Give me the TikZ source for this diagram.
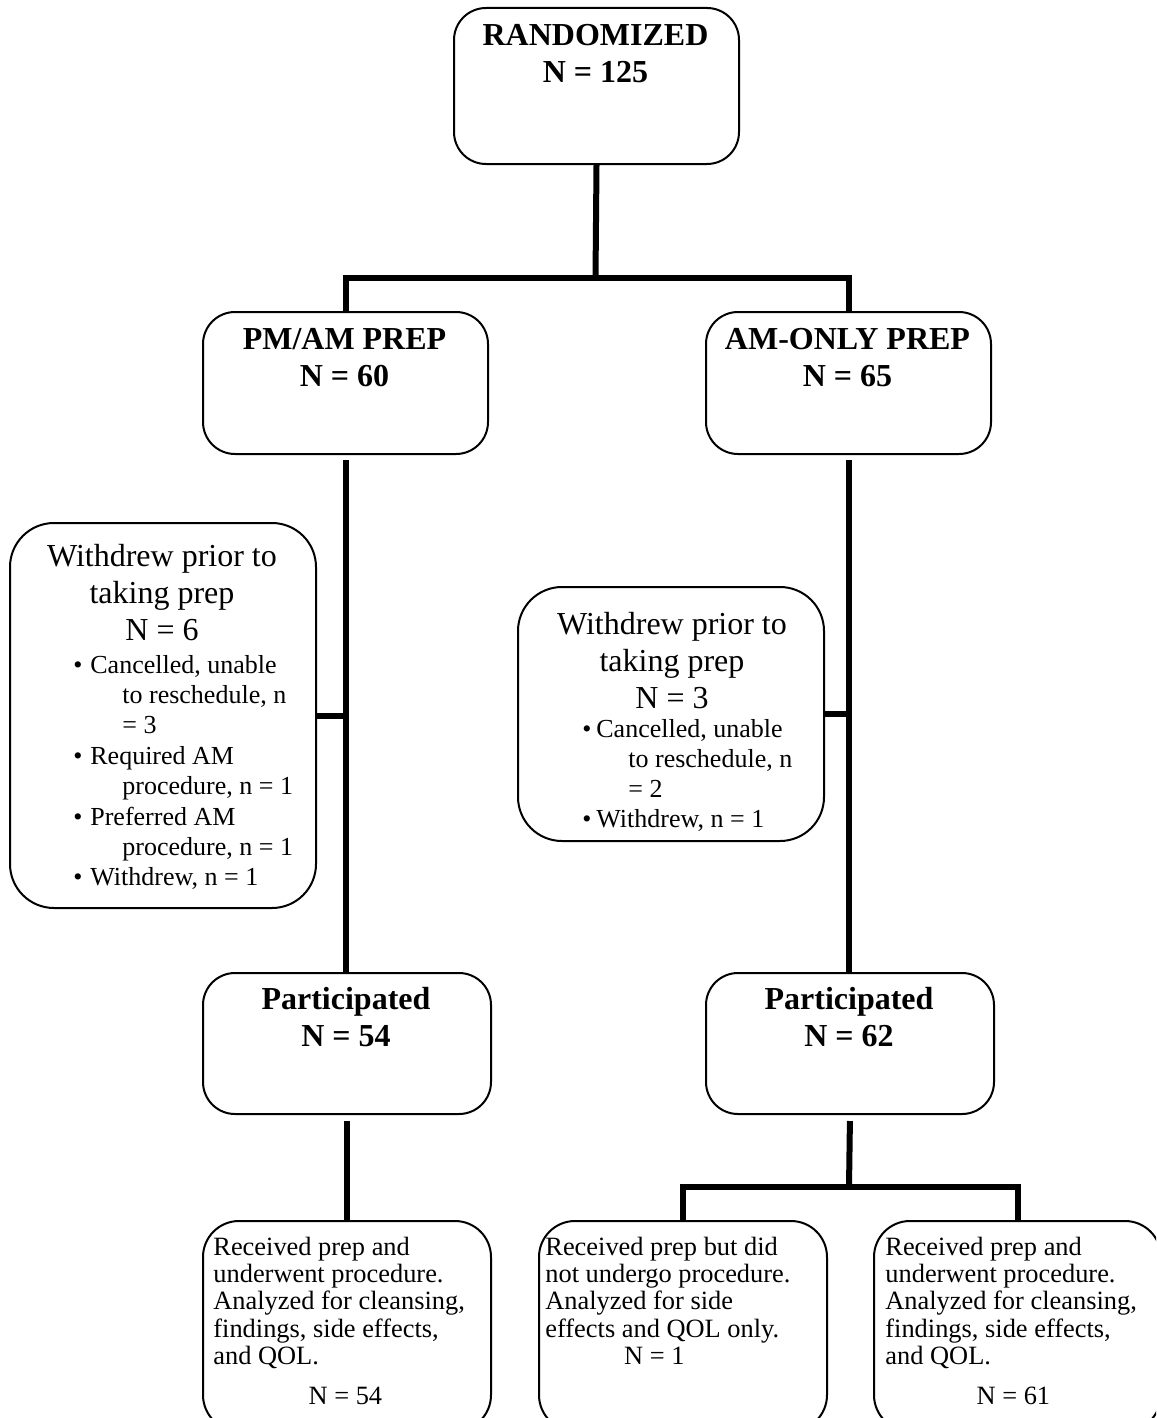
\documentclass[tikz,border=0pt]{standalone}
\usepackage{fontspec}
\setmainfont{Liberation Serif}
\begin{document}
\begin{tikzpicture}[x=0.5pt,y=-0.5pt,
  box/.style={draw, line width=1pt, rounded corners=16pt, inner sep=0pt, anchor=north west},
  conn/.style={line width=3pt, line join=miter},
  hd/.style={inner sep=0pt, anchor=base, font=\fontsize{16pt}{18.5pt}\selectfont\bfseries},
  wt/.style={inner sep=0pt, anchor=base, font=\fontsize{16pt}{18.5pt}\selectfont},
  bul/.style={inner sep=0pt, anchor=base west, font=\fontsize{13pt}{15.2pt}\selectfont},
  bt/.style={inner sep=0pt, anchor=base west, font=\fontsize{13.2pt}{13.7pt}\selectfont}]
\useasboundingbox (0,0) rectangle (1156,1418);
\clip (0,0) rectangle (1156,1418);

% boxes
\node[box, minimum width=142.5pt, minimum height=78pt] (rand) at (453,7) {};
\node[box, minimum width=142.5pt, minimum height=71pt] (pm) at (202,311) {};
\node[box, minimum width=142.5pt, minimum height=71pt] (am) at (705,311) {};
\node[box, rounded corners=22pt, minimum width=153pt, minimum height=192.5pt] (wl) at (9,522) {};
\node[box, rounded corners=22pt, minimum width=153pt, minimum height=127pt] (wr) at (517,586) {};
\node[box, minimum width=144pt, minimum height=70.5pt] (pl) at (202,972) {};
\node[box, minimum width=144pt, minimum height=70.5pt] (pr) at (705,972) {};
\node[box, rounded corners=18pt, minimum width=144pt, minimum height=105pt] (bl) at (202,1220) {};
\node[box, rounded corners=18pt, minimum width=144pt, minimum height=105pt] (bm) at (538,1220) {};
\node[box, rounded corners=18pt, minimum width=143.5pt, minimum height=105pt] (br) at (873,1220) {};

% headings
\node[hd] (randT) at (595.5,46) {\parbox[t]{140pt}{\centering RANDOMIZED\\N = 125}};
\node[hd] (pmT) at (344.5,349) {\parbox[t]{140pt}{\centering PM/AM PREP\\N = 60}};
\node[hd] (amT) at (847.5,349) {\parbox[t]{140pt}{\centering AM-ONLY PREP\\N = 65}};
\node[hd] (plT) at (346,1009) {\parbox[t]{140pt}{\centering Participated\\N = 54}};
\node[hd] (prT) at (849,1009) {\parbox[t]{140pt}{\centering Participated\\N = 62}};

% withdrawal boxes
\node[wt] (wlT) at (162,566) {\parbox[t]{150pt}{\centering Withdrew prior to\\taking prep\\N = 6}};
\node[bul] (wlB) at (73,673) {\parbox[t]{125pt}{\raggedright
\makebox[8.5pt][l]{•}Cancelled, unable\\
\hspace*{24.5pt}to reschedule, n\\
\hspace*{24.5pt}= 3\\
\makebox[8.5pt][l]{•}Required AM\\
\hspace*{24.5pt}procedure, n = 1\\
\makebox[8.5pt][l]{•}Preferred AM\\
\hspace*{24.5pt}procedure, n = 1\\
\makebox[8.5pt][l]{•}Withdrew, n = 1}};

\node[wt] (wrT) at (672,634) {\parbox[t]{150pt}{\centering Withdrew prior to\\taking prep\\N = 3}};
\node[bul, font=\fontsize{13pt}{15pt}\selectfont] (wrB) at (582,737) {\parbox[t]{125pt}{\raggedright
\makebox[7pt][l]{•}Cancelled, unable\\
\hspace*{23pt}to reschedule, n\\
\hspace*{23pt}= 2\\
\makebox[7pt][l]{•}Withdrew, n = 1}};

% bottom texts
\node[bt] (blT) at (213,1255) {\parbox[t]{140pt}{\raggedright Received prep and\\underwent procedure.\\Analyzed for cleansing,\\findings, side effects,\\and QOL.\par\vspace{6pt}\makebox[132pt][c]{N = 54}}};
\node[bt] (bmT) at (545,1255) {\parbox[t]{140pt}{\raggedright Received prep but did\\not undergo procedure.\\Analyzed for side\\effects and QOL only.\\\makebox[109pt][c]{N = 1}}};
\node[bt] (brT) at (885,1255) {\parbox[t]{140pt}{\raggedright Received prep and\\underwent procedure.\\Analyzed for cleansing,\\findings, side effects,\\and QOL.\par\vspace{6pt}\makebox[128pt][c]{N = 61}}};

% connectors
\coordinate (s1) at (595.5,278);
\draw[conn] (rand.south) -- (s1);
\draw[conn] (pm.north) |- (s1 -| am.north) -- (am.north);
\draw[conn, shorten <=2.5pt] (pm.south) -- (pm.south |- pl.north);
\draw[conn, shorten <=2.5pt] (am.south) -- (am.south |- pr.north);
\draw[conn] (wl.east) -- (wl.east -| pm.south);
\draw[conn] (wr.east) -- (wr.east -| am.south);
\draw[conn, shorten <=3pt] (pl.south) -- (pl.south |- bl.north);
\coordinate (s2) at (849,1187);
\draw[conn, shorten <=3pt] (pr.south) -- (s2);
\draw[conn] (bm.north) |- (s2 -| br.north) -- (br.north);
\end{tikzpicture}
\end{document}
